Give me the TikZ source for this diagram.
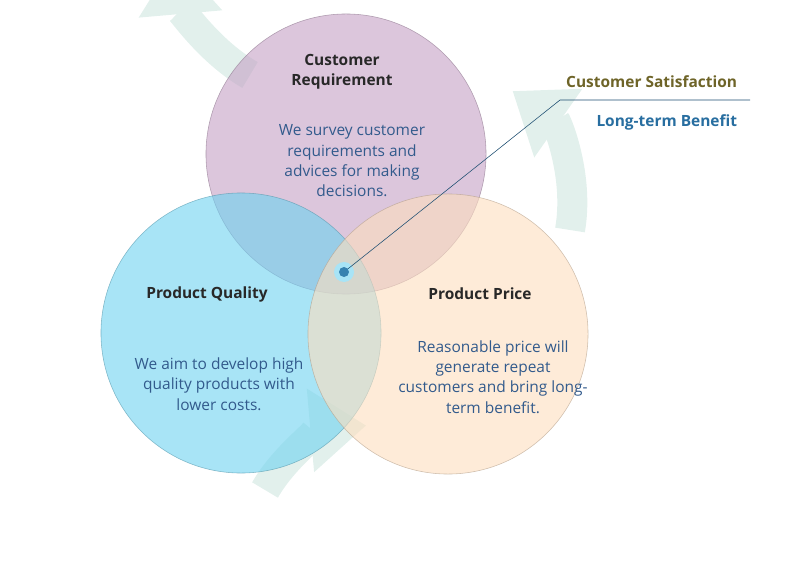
\documentclass[tikz,border=0pt]{standalone}
\usepackage{fontspec}
\setmainfont{Open Sans}
\usetikzlibrary{arrows.meta}
\definecolor{purplec}{RGB}{196,160,196}
\definecolor{bluec}{RGB}{110,210,240}
\definecolor{orangec}{RGB}{253,222,190}
\definecolor{arrowc}{RGB}{226,240,236}
\definecolor{bodyc}{RGB}{50,90,140}
\definecolor{titlec}{RGB}{40,40,40}
\definecolor{olivec}{RGB}{110,100,40}
\definecolor{benefitc}{RGB}{40,110,160}
\tikzset{
  circ/.style={circle,minimum size=7cm,inner sep=0pt,fill opacity=0.6,draw opacity=0.6,thin},
  ttl/.style={font=\fontsize{11}{14}\selectfont\bfseries,text=titlec,align=center},
  body/.style={font=\fontsize{11}{14.5}\selectfont,text=bodyc,align=center},
  cyc/.style={arrowc,line width=0.75cm,-{Triangle[width=2cm,length=1.4cm]}}
}
\begin{document}
\begin{tikzpicture}[x=0.025cm,y=-0.025cm]
\useasboundingbox (0,0) rectangle (800,576);
% background cycle arrows
\draw[cyc] (250,75) arc[start angle=120,end angle=175,radius=150];
\draw[cyc] (570,230) arc[start angle=10,end angle=-55,radius=140];
\draw[cyc] (265,490) arc[start angle=210,end angle=265,radius=130];
% circles
\node[circ,fill=purplec,draw=purplec!70!black] (req) at (346,154) {};
\node[circ,fill=bluec,draw=bluec!70!black] (qual) at (241,333) {};
\node[circ,fill=orangec,draw=orangec!70!black] (price) at (448,334) {};
% texts
\node[ttl] (reqT) at (342,72) {Customer\\Requirement};
\node[body] (reqB) at (352,161) {We survey customer\\requirements and\\advices for making\\decisions.};
\node[ttl] (qualT) at (207,294) {Product Quality};
\node[body] (qualB) at (219,384) {We aim to develop high\\quality products with\\lower costs.};
\node[ttl] (priceT) at (480,294) {Product Price};
\node[body] (priceB) at (493,377) {Reasonable price will\\generate repeat\\customers and bring long-\\term benefit.};
% centre dot and callout
\node[circle,fill=bluec!60,minimum size=0.5cm,inner sep=0pt] (dotO) at (344,272) {};
\node[circle,fill=benefitc!80!bluec,minimum size=0.25cm,inner sep=0pt] (dot) at (344,272) {};
\coordinate (bend) at (560,100);
\coordinate (lineE) at (750,100);
\draw[benefitc!70!black,thin] (dot) -- (bend) -- (lineE);
\node[ttl,text=olivec,anchor=south east] (sat) at (742,93) {Customer Satisfaction};
\node[ttl,text=benefitc,anchor=north east] (ben) at (742,110) {Long-term Benefit};
\end{tikzpicture}
\end{document}
